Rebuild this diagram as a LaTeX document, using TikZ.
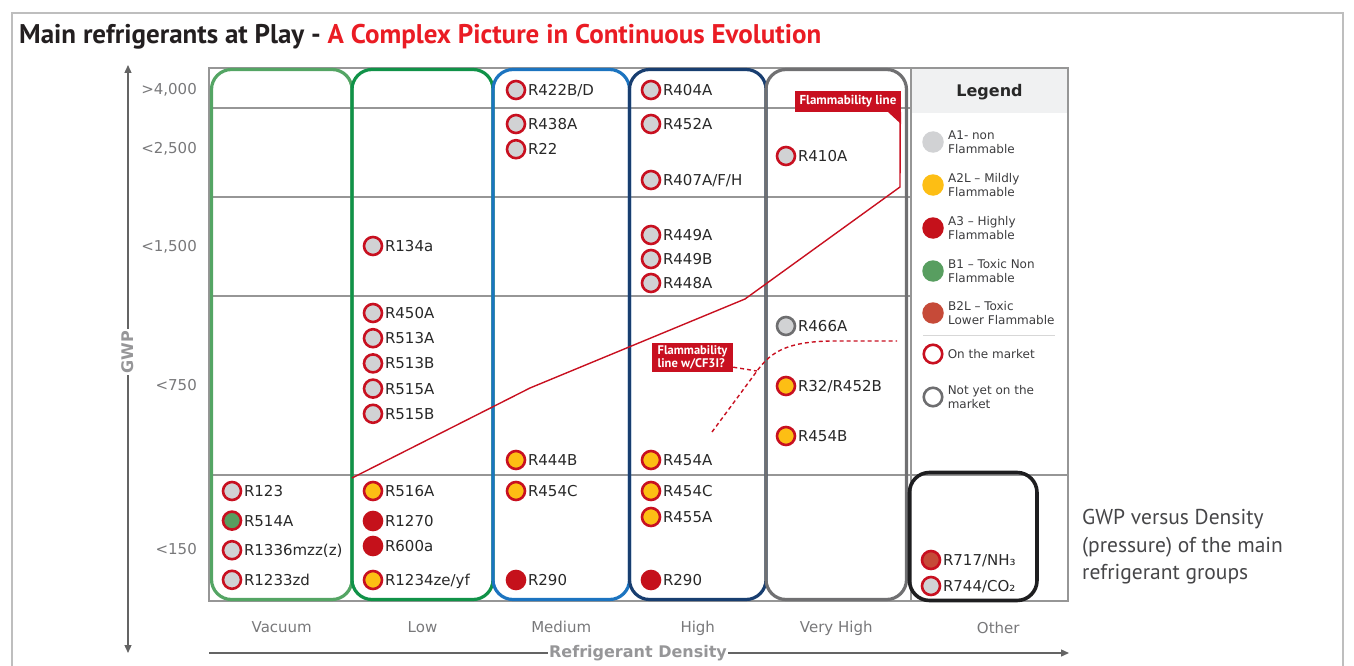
\documentclass[tikz,border=0pt]{standalone}
\usepackage{fontspec}
\setmainfont{DejaVu Sans}
\newfontfamily\myriad{PT Sans}
\usepackage{tikz}
\usetikzlibrary{arrows.meta,positioning,calc}

\definecolor{ringred}{RGB}{200,16,32}
\definecolor{agrey}{RGB}{209,210,212}
\definecolor{ayellow}{RGB}{253,190,20}
\definecolor{ared}{RGB}{197,17,27}
\definecolor{bgreen}{RGB}{88,158,96}
\definecolor{bbrown}{RGB}{198,74,56}
\definecolor{ringgrey}{RGB}{110,110,112}
\definecolor{vacgreen}{RGB}{84,165,100}
\definecolor{lowgreen}{RGB}{16,146,72}
\definecolor{medblue}{RGB}{28,116,192}
\definecolor{highnavy}{RGB}{24,62,112}
\definecolor{vhgrey}{RGB}{112,112,114}
\definecolor{othblack}{RGB}{30,30,32}
\definecolor{gridgrey}{RGB}{150,150,150}
\definecolor{axgrey}{RGB}{100,100,100}
\definecolor{ticktext}{RGB}{120,120,122}
\definecolor{axtext}{RGB}{150,150,152}
\definecolor{labeltext}{RGB}{40,40,40}
\definecolor{legink}{RGB}{60,60,62}
\definecolor{leghead}{RGB}{240,241,242}
\definecolor{legline}{RGB}{215,215,215}
\definecolor{titledark}{RGB}{35,31,32}
\definecolor{titlered}{RGB}{234,28,36}
\definecolor{framegrey}{RGB}{190,190,190}
\definecolor{desctext}{RGB}{70,70,72}

\begin{document}
\begin{tikzpicture}[
		x=1pt, y=-1pt,
		node distance=4.6pt,
		gridline/.style={draw=gridgrey, line width=1.1pt},
		colbox/.style={rectangle, rounded corners=20pt, line width=3.2pt, inner sep=0pt,
				minimum width=#1, minimum height=530pt},
		ref/.style={circle, minimum size=18pt, inner sep=0pt, line width=2.6pt},
		a1/.style={ref, draw=ringred, fill=agrey},
		a2l/.style={ref, draw=ringred, fill=ayellow},
		a3/.style={ref, draw=ared, fill=ared},
		b1/.style={ref, draw=ringred, fill=bgreen},
		b2l/.style={ref, draw=ringred, fill=bbrown},
		notyet/.style={ref, draw=ringgrey, fill=agrey},
		reflabel/.style={inner sep=1.5pt, text=labeltext, text height=10.8pt, text depth=0pt,
				font=\fontsize{15}{18}\selectfont},
		ticklabel/.style={anchor=base east, inner sep=0pt, text=ticktext, font=\fontsize{15}{18}\selectfont},
		collabel/.style={inner sep=0pt, text=ticktext, text height=11pt, text depth=3pt,
				font=\fontsize{15}{18}\selectfont},
		axis/.style={draw=axgrey, line width=1.3pt},
		axtitle/.style={fill=white, inner sep=1.5pt, text=axtext, font=\bfseries\fontsize{16}{18}\selectfont},
		flamline/.style={draw=ringred, line width=1.4pt},
		flamdash/.style={draw=ringred, line width=1.4pt, dash pattern=on 4pt off 3pt},
		flag/.style={rectangle, fill=ringred, text=white, inner sep=0pt,
				font=\myriad\bfseries\fontsize{13}{14}\selectfont},
		legdot/.style={circle, minimum size=21.5pt, inner sep=0pt},
		legring/.style={circle, minimum size=18.5pt, inner sep=0pt, line width=2.6pt, fill=white},
		legtext/.style={align=left, inner sep=0pt, text=legink, font=\fontsize{12}{13.5}\selectfont},
		]
		\useasboundingbox (0,0) rectangle (1354,666);

		% Frame and title
		\draw[framegrey, line width=1.2pt] (12,666) -- (12,13) -- (1343,13) -- (1343,666);
		\node[anchor=west, inner sep=0pt, font=\myriad\bfseries\fontsize{27}{30}\selectfont] (title) at (19,37)
			{\textcolor{titledark}{Main refrigerants at Play -} \textcolor{titlered}{A Complex Picture in Continuous Evolution}};

		% Grid
		\fill[leghead] (911,68) rectangle (1068,113);
		\draw[gridline] (209,68) rectangle (1068,601);
		\foreach \y in {108,197,296}
			\draw[gridline] (209,\y) -- (911,\y);
		\draw[gridline] (209,475) -- (1068,475);
		\draw[gridline] (911,68) -- (911,601);

		% Density columns
		\node[colbox=140.5pt, draw=vacgreen] (vacuum) at (281.75,334.5) {};
		\node[colbox=141pt, draw=lowgreen] (low) at (422.5,334.5) {};
		\node[colbox=136.5pt, draw=medblue] (medium) at (561.25,334.5) {};
		\node[colbox=136.5pt, draw=highnavy] (high) at (697.75,334.5) {};
		\node[colbox=140.5pt, draw=vhgrey] (veryhigh) at (836.25,334.5) {};
		\node[colbox=127.5pt, minimum height=128pt, draw=othblack, line width=3.6pt] (other) at (973.25,536.5) {};

		\node[collabel, below=20pt of vacuum] (lvacuum) {Vacuum};
		\node[collabel, below=20pt of low] (llow) {Low};
		\node[collabel, below=20pt of medium] (lmedium) {Medium};
		\node[collabel, below=20pt of high] (lhigh) {High};
		\node[collabel, below=20pt of veryhigh] (lveryhigh) {Very High};
		\node[collabel, below=20pt of other, xshift=25pt] (lother) {Other};

		% Flammability lines
		\coordinate (fl0) at (352,478);
		\coordinate (fl1) at (530,388);
		\coordinate (fl2) at (745,299);
		\coordinate (fl3) at (900,187);
		\node[flag, minimum width=106pt, minimum height=21pt] (flamlab) at (848,101.5) {Flammability line};
		\fill[ringred] ([xshift=-13pt]flamlab.south east) -- (flamlab.south east) -- ++(0,12) -- cycle;
		\draw[flamline] (fl0) -- (fl1) -- (fl2) -- (fl3) -- ([xshift=-1pt]flamlab.south east);

		\node[flag, align=left, minimum width=81pt, minimum height=29pt, font=\myriad\bfseries\fontsize{12.5}{13}\selectfont]
			(cflab) at (692.5,357.5) {Flammability\\line w/CF3I?};
		\coordinate (d0) at (712,432);
		\coordinate (d1) at (757,371);
		\coordinate (d2) at (830,341);
		\coordinate (d3) at (897,341);
		\draw[flamdash] (d0) -- (d1) .. controls (772,350) and (790,342) .. (d2) -- (d3);
		\draw[flamdash] ([yshift=5pt]cflab.south east) -- (d1);

		% Vacuum
		\node[a1, label={[reflabel]right:R123}] (r123) at (232,491) {};
		\node[b1, below=9pt of r123, label={[reflabel]right:R514A}] (r514a) {};
		\node[a1, below=9pt of r514a, label={[reflabel]right:R1336mzz(z)}] (r1336) {};
		\node[a1, below=9pt of r1336, label={[reflabel]right:R1233zd}] (r1233zd) {};

		% Low
		\node[a1, label={[reflabel]right:R134a}] (r134a) at (373,246) {};
		\node[a1, label={[reflabel]right:R450A}] (r450a) at (373,313) {};
		\node[a1, below=of r450a, label={[reflabel]right:R513A}] (r513a) {};
		\node[a1, below=of r513a, label={[reflabel]right:R513B}] (r513b) {};
		\node[a1, below=of r513b, label={[reflabel]right:R515A}] (r515a) {};
		\node[a1, below=of r515a, label={[reflabel]right:R515B}] (r515b) {};
		\node[a2l, label={[reflabel]right:R516A}] (r516a) at (373,491) {};
		\node[a3, label={[reflabel]right:R1270}] (r1270) at (373,521) {};
		\node[a3, label={[reflabel]right:R600a}] (r600a) at (373,546) {};
		\node[a2l, label={[reflabel]right:R1234ze/yf}] (r1234ze) at (373,580) {};

		% Medium
		\node[a1, label={[reflabel]right:R422B/D}] (r422bd) at (516,90) {};
		\node[a1, label={[reflabel]right:R438A}] (r438a) at (516,124) {};
		\node[a1, below=of r438a, label={[reflabel]right:R22}] (r22) {};
		\node[a2l, label={[reflabel]right:R444B}] (r444b) at (516,460) {};
		\node[a2l, label={[reflabel]right:R454C}] (r454cmed) at (516,491) {};
		\node[a3, label={[reflabel]right:R290}] (r290med) at (516,580) {};

		% High
		\node[a1, label={[reflabel]right:R404A}] (r404a) at (651,90) {};
		\node[a1, label={[reflabel]right:R452A}] (r452a) at (651,124) {};
		\node[a1, label={[reflabel]right:R407A/F/H}] (r407) at (651,180) {};
		\node[a1, label={[reflabel]right:R449A}] (r449a) at (651,235) {};
		\node[a1, below=3.4pt of r449a, label={[reflabel]right:R449B}] (r449b) {};
		\node[a1, below=3.4pt of r449b, label={[reflabel]right:R448A}] (r448a) {};
		\node[a2l, label={[reflabel]right:R454A}] (r454a) at (651,460) {};
		\node[a2l, label={[reflabel]right:R454C}] (r454chigh) at (651,491) {};
		\node[a2l, label={[reflabel]right:R455A}] (r455a) at (651,517) {};
		\node[a3, label={[reflabel]right:R290}] (r290high) at (651,580) {};

		% Very high
		\node[a1, label={[reflabel]right:R410A}] (r410a) at (786,156) {};
		\node[notyet, label={[reflabel]right:R466A}] (r466a) at (786,326) {};
		\node[a2l, label={[reflabel]right:R32/R452B}] (r32) at (786,386) {};
		\node[a2l, label={[reflabel]right:R454B}] (r454b) at (786,436) {};

		% Other
		\node[b2l, label={[reflabel]right:R717/NH₃}] (r717) at (931,560) {};
		\node[a1, label={[reflabel]right:R744/CO₂}] (r744) at (931,586) {};

		% Legend
		\node[font=\bfseries\fontsize{16}{18}\selectfont, text=labeltext] (legend) at (989.5,92) {Legend};
		\node[legdot, fill=agrey] (lga1) at (933,142) {};
		\node[legtext, right=4pt of lga1] (ta1) {A1- non\\Flammable};
		\node[legdot, fill=ayellow] (lga2l) at (933,185) {};
		\node[legtext, right=4pt of lga2l] (ta2l) {A2L – Mildly\\Flammable};
		\node[legdot, fill=ared] (lga3) at (933,228) {};
		\node[legtext, right=4pt of lga3] (ta3) {A3 – Highly\\Flammable};
		\node[legdot, fill=bgreen] (lgb1) at (933,271) {};
		\node[legtext, right=4pt of lgb1] (tb1) {B1 – Toxic Non\\Flammable};
		\node[legdot, fill=bbrown] (lgb2l) at (933,313) {};
		\node[legtext, right=4pt of lgb2l] (tb2l) {B2L – Toxic\\Lower Flammable};
		\draw[legline, line width=1pt] (923,335) -- (1055,335);
		\node[legring, draw=ringred] (lgon) at (933,354) {};
		\node[legtext, right=4pt of lgon] (ton) {On the market};
		\node[legring, draw=ringgrey] (lgnot) at (933,397) {};
		\node[legtext, right=4pt of lgnot] (tnot) {Not yet on the\\market};

		% Axes
		\coordinate (ytop) at (128,65);
		\coordinate (ybot) at (128,653);
		\draw[axis, {Triangle[length=8pt,width=7pt]}-{Triangle[length=8pt,width=7pt]}] (ytop) -- (ybot);
		\node[axtitle, rotate=90] (gwp) at (128,352) {GWP};
		\coordinate (xleft) at (209,653);
		\coordinate (xright) at (1069,653);
		\draw[axis, -{Triangle[length=8pt,width=7pt]}] (xleft) -- (xright);
		\node[axtitle] (density) at (638,653) {Refrigerant Density};

		\node[ticklabel] (g4000) at (197,94.5) {>4,000};
		\node[ticklabel] (g2500) at (197,153.5) {<2,500};
		\node[ticklabel] (g1500) at (197,251.5) {<1,500};
		\node[ticklabel] (g750) at (197,390.5) {<750};
		\node[ticklabel] (g150) at (197,554.5) {<150};

		% Caption
		\node[anchor=west, align=left, inner sep=0pt, text=desctext, font=\myriad\fontsize{21.5}{27.5}\selectfont]
			(desc) at (1082,547) {GWP versus Density\\(pressure) of the main\\refrigerant groups};
	\end{tikzpicture}
\end{document}
